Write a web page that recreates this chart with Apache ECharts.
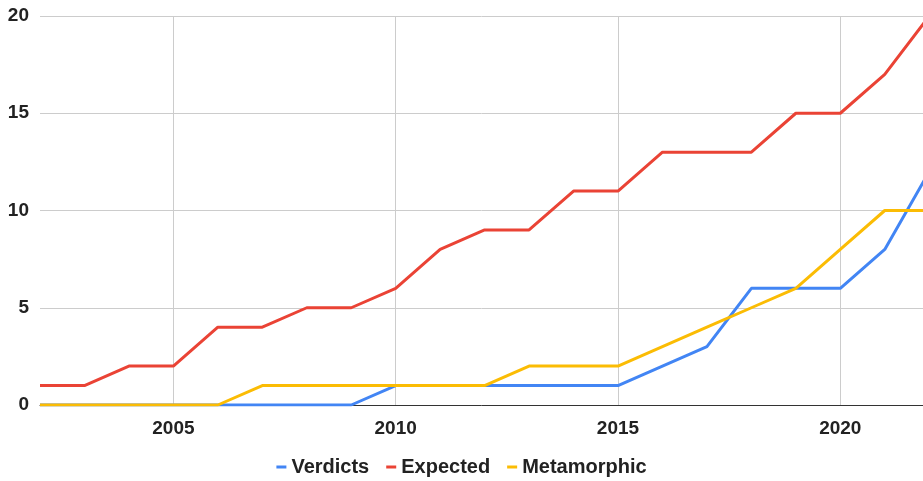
<!DOCTYPE html>
<html>
<head>
<meta charset="utf-8">
<script src="https://cdn.jsdelivr.net/npm/echarts@6/dist/echarts.min.js"></script>
<style>
  html, body { margin: 0; padding: 0; background: #fff; }
  #chart { width: 923px; height: 481px; }
</style>
</head>
<body>
<div id="chart"></div>
<script>
const years = [2002, 2003, 2004, 2005, 2006, 2007, 2008, 2009, 2010, 2011, 2012,
               2013, 2014, 2015, 2016, 2017, 2018, 2019, 2020, 2021, 2022];
const verdicts = [0, 0, 0, 0, 0, 0, 0, 0, 1, 1, 1, 1, 1, 1, 2, 3, 6, 6, 6, 8, 12];
const expected = [1, 1, 2, 2, 4, 4, 5, 5, 6, 8, 9, 9, 11, 11, 13, 13, 13, 15, 15, 17, 20];
const metamorphic = [0, 0, 0, 0, 0, 1, 1, 1, 1, 1, 1, 2, 2, 2, 3, 4, 5, 6, 8, 10, 10];
const yearTicks = [2005, 2010, 2015, 2020];

const font = 'Liberation Sans, Arial, sans-serif';
const pairs = arr => years.map((y, i) => [y, arr[i]]);

const chart = echarts.init(document.getElementById('chart'));
const mkSeries = (name, data, color) => ({
  name: name,
  type: 'line',
  data: pairs(data),
  showSymbol: false,
  symbol: 'none',
  clip: true,
  lineStyle: { color: color, width: 3 },
  itemStyle: { color: color }
});

chart.setOption({
  animation: false,
  grid: { left: 40, right: 0, top: 16, bottom: 76, containLabel: false },
  legend: {
    top: 452,
    left: 'center',
    icon: 'rect',
    itemWidth: 10,
    itemHeight: 3,
    itemGap: 17,
    textStyle: { fontFamily: font, fontWeight: 'bold', fontSize: 20, color: '#222' },
    data: ['Verdicts', 'Expected', 'Metamorphic']
  },
  xAxis: {
    type: 'value',
    min: 2002,
    max: 2021.86,
    axisLine: { show: true, lineStyle: { color: '#333', width: 1 } },
    axisTick: { show: false, customValues: yearTicks },
    axisLabel: {
      customValues: yearTicks,
      formatter: v => String(v),
      fontFamily: font, fontWeight: 'bold', fontSize: 19, color: '#222', margin: 14
    },
    splitLine: { show: true, lineStyle: { color: '#ccc', width: 1 } }
  },
  yAxis: {
    type: 'value',
    min: 0,
    max: 20,
    interval: 5,
    axisLine: { show: false },
    axisTick: { show: false },
    axisLabel: { fontFamily: font, fontWeight: 'bold', fontSize: 19, color: '#222', margin: 11 },
    splitLine: { lineStyle: { color: '#ccc', width: 1 } }
  },
  series: [
    mkSeries('Verdicts', verdicts, '#4285F4'),
    mkSeries('Expected', expected, '#EA4335'),
    mkSeries('Metamorphic', metamorphic, '#FBBC04')
  ]
});
</script>
</body>
</html>
